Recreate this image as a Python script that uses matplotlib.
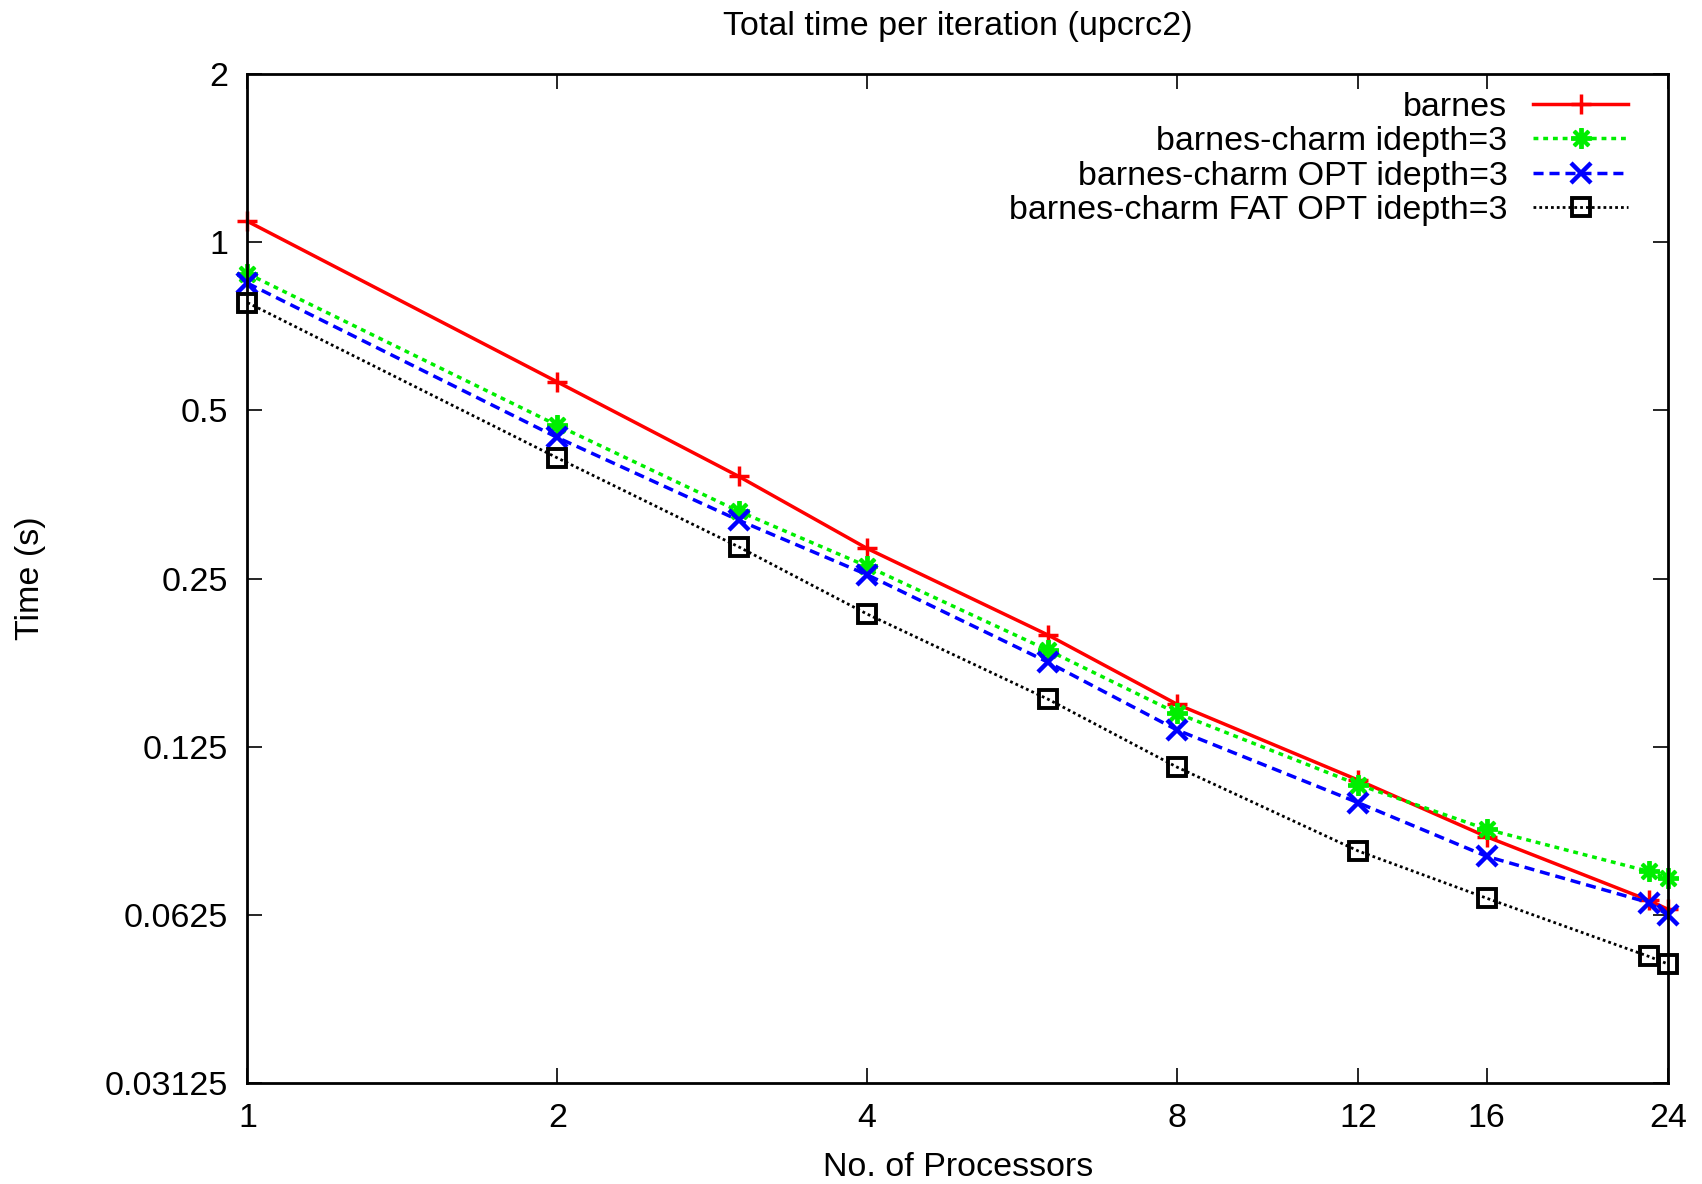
import matplotlib
matplotlib.use('Agg')
import matplotlib.pyplot as plt
from matplotlib.ticker import FixedLocator, FixedFormatter, NullLocator

plt.rcParams['font.family'] = ['Liberation Sans', 'DejaVu Sans']

# data
procs = [1, 2, 3, 4, 6, 8, 12, 16, 23, 24]
barnes = [1.089, 0.562, 0.381, 0.283, 0.198, 0.149, 0.109, 0.0863, 0.0664, 0.0640]
charm = [0.878, 0.470, 0.330, 0.263, 0.186, 0.1436, 0.107, 0.089, 0.0748, 0.0728]
charm_opt = [0.844, 0.447, 0.318, 0.254, 0.177, 0.134, 0.0993, 0.0796, 0.0658, 0.0625]
charm_fat = [0.779, 0.411, 0.285, 0.216, 0.152, 0.115, 0.0814, 0.0670, 0.0527, 0.0511]

x_ticks = [1, 2, 4, 8, 12, 16, 24]
y_ticks = [0.03125, 0.0625, 0.125, 0.25, 0.5, 1, 2]
y_labels = ['0.03125', '0.0625', '0.125', '0.25', '0.5', '1', '2']

fig = plt.figure(figsize=(17.02, 11.84), dpi=100)
ax = fig.add_axes([0.1454, 0.085, 0.9800 - 0.1454, 0.9377 - 0.085])

fs = 24.5
ax.plot(procs, barnes, color='#ff0000', lw=2.5, marker='+', ms=15, mew=2.5,
        label='barnes', clip_on=False)
ax.plot(procs, charm, color='#00ee00', lw=2.5, ls=(0, (1.4, 1.4)), marker=(8, 2, 0),
        ms=15, mew=2.8, label='barnes-charm idepth=3', clip_on=False)
ax.plot(procs, charm_opt, color='#0000ff', lw=2.5, ls=(0, (2.9, 1.7)), marker='x',
        ms=14, mew=3.2, label='barnes-charm OPT idepth=3', clip_on=False)
ax.plot(procs, charm_fat, color='black', lw=2.0, ls=(0, (1, 1.1)), marker='s',
        ms=13, mew=2.8, mfc='none', label='barnes-charm FAT OPT idepth=3',
        clip_on=False)

ax.set_xscale('log', base=2)
ax.set_yscale('log', base=2)
ax.set_xlim(1, 24)
ax.set_ylim(0.03125, 2)
ax.xaxis.set_major_locator(FixedLocator(x_ticks))
ax.xaxis.set_major_formatter(FixedFormatter([str(v) for v in x_ticks]))
ax.yaxis.set_major_locator(FixedLocator(y_ticks))
ax.yaxis.set_major_formatter(FixedFormatter(y_labels))
ax.xaxis.set_minor_locator(NullLocator())
ax.yaxis.set_minor_locator(NullLocator())
ax.tick_params(direction='in', length=11, width=1.2, labelsize=fs,
               top=True, right=True, pad=14)
for s in ax.spines.values():
    s.set_linewidth(2)

ax.set_title('Total time per iteration (upcrc2)', fontsize=fs, pad=28)
ax.set_xlabel('No. of Processors', fontsize=fs, labelpad=13)
ax.set_ylabel('Time (s)', fontsize=fs, labelpad=42)

leg = ax.legend(loc='upper right', bbox_to_anchor=(0.972, 0.982), markerfirst=False,
                frameon=False, fontsize=fs, handlelength=2.8, handletextpad=0.75,
                labelspacing=0.1, borderpad=0, borderaxespad=0)

fig.savefig('out.png', dpi=100)
